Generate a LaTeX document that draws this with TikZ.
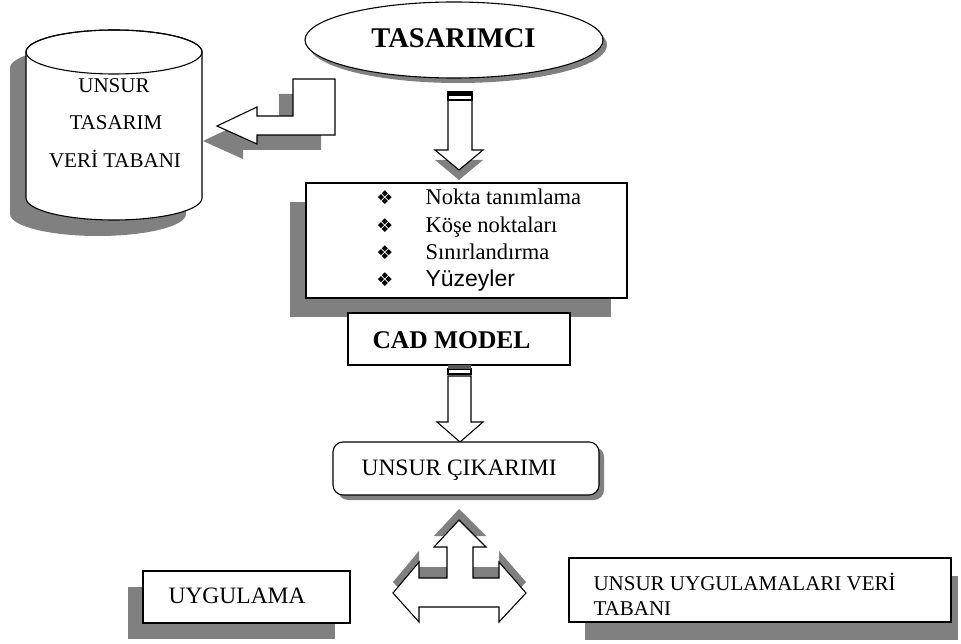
\documentclass[tikz,border=0pt]{standalone}
\usepackage{fontspec}
\setmainfont{Liberation Serif}
\newfontfamily\arialf{Liberation Sans}
\newfontfamily\symf{DejaVu Sans}
\usetikzlibrary{shapes.geometric}
\definecolor{shadowgray}{RGB}{128,128,128}
\definecolor{bandgray}{RGB}{90,90,90}
\begin{document}
\begin{tikzpicture}[x=1pt,y=-1pt,
  outl/.style={draw=black,line width=1.1pt,line join=miter},
  shd/.style={fill=shadowgray,draw=none},
  box/.style={outl,fill=white,rectangle,inner sep=0pt},
  dbtext/.style={anchor=base,font=\fontsize{21}{24}\selectfont},
  feattext/.style={anchor=base west,font=\fontsize{22.5}{26}\selectfont},
  bulletmark/.style={font=\symf\fontsize{19}{20}\selectfont,inner sep=0pt}]
\useasboundingbox (0,0) rectangle (961,644);

% ---------- database cylinder ----------
\fill[shd] (10,68) -- (10,214) arc[start angle=180,end angle=0,x radius=88,y radius=22]
  -- (186,68) arc[start angle=0,end angle=-180,x radius=88,y radius=22] -- cycle;
\filldraw[outl,fill=white] (26,52) -- (26,198) arc[start angle=180,end angle=0,x radius=88,y radius=22]
  -- (202,52) arc[start angle=0,end angle=-180,x radius=88,y radius=22] -- cycle;
\draw[outl] (114,52) ellipse [x radius=88,y radius=22];
\coordinate (db) at (114,125);
\node (db1) [dbtext] at (114,93) {UNSUR};
\node (db2) [dbtext] at (116,130) {TASARIM};
\node (db3) [dbtext] at (115,168) {VERİ TABANI};

% ---------- step arrow to database ----------
\fill[shd] (203,141) -- (243,122) -- (243,131) -- (279,131) -- (279,94) -- (321,94)
  -- (321,150) -- (243,150) -- (243,159) -- cycle;
\filldraw[outl,fill=white] (217,126) -- (257,107) -- (257,116) -- (293,116) -- (293,79) -- (335,79)
  -- (335,135) -- (257,135) -- (257,144) -- cycle;

% ---------- designer ellipse ----------
\fill[shd] (458,45) ellipse [x radius=149,y radius=38];
\node (des) [ellipse,outl,fill=white,minimum width=298pt,minimum height=76pt,inner sep=0pt] at (454,40) {};
\node (dest) [anchor=base,font=\bfseries\fontsize{28.5}{30}\selectfont] at (453.5,48) {TASARIMCI};

% ---------- arrow 1 ----------
\fill[shd] (435,160) -- (483,160) -- (459,180) -- cycle;
\filldraw[outl,fill=white] (448,100) -- (448,150) -- (435,150) -- (459,170) -- (483,150)
  -- (472,150) -- (472,100) -- cycle;
\filldraw[outl,fill=white] (448,92) rectangle (472,100);
\fill[black] (448,92) rectangle (472,96);

% ---------- feature box ----------
\fill[shd] (290,202) rectangle (611,317);
\node (feat) [box,minimum width=321pt,minimum height=115pt] at (466.5,240.5) {};
\node (b1) [bulletmark] at (385,198) {❖};
\node (b2) [bulletmark] at (385,226) {❖};
\node (b3) [bulletmark] at (385,253) {❖};
\node (b4) [bulletmark] at (385,280) {❖};
\node (f1) [feattext] at (422,205) {Nokta tanımlama};
\node (f2) [feattext] at (422,233) {Köşe noktaları};
\node (f3) [feattext] at (422,260) {Sınırlandırma};
\node (f4) [anchor=base west,font=\arialf\fontsize{23}{26}\selectfont] at (422,287) {Yüzeyler};

% ---------- CAD model ----------
\node (cad) [box,minimum width=222pt,minimum height=52pt] at (459,339) {};
\node (cadt) [anchor=base,font=\bfseries\fontsize{25.5}{28}\selectfont] at (451.5,348) {CAD MODEL};

% ---------- arrow 2 ----------
\filldraw[outl,fill=white] (448,376) -- (448,422) -- (437,422) -- (460,442) -- (483,422)
  -- (471,422) -- (471,376) -- cycle;
\filldraw[outl,fill=white] (448,369) rectangle (471,374);
\fill[bandgray] (448,365) rectangle (471,369);

% ---------- feature extraction ----------
\fill[shd,rounded corners=10pt] (338,447) rectangle (604,500);
\node (ext) [box,rounded corners=10pt,minimum width=266pt,minimum height=53pt] at (466,468.5) {};
\node (extt) [anchor=base west,font=\fontsize{23.5}{26}\selectfont] at (358,475) {UNSUR ÇIKARIMI};

% ---------- three-way arrow ----------
\fill[shd] (459,509) -- (486,536) -- (473,536) -- (473,567) -- (499,567) -- (499,551) -- (526,582)
  -- (499,611) -- (499,596) -- (419,596) -- (419,611) -- (393,582) -- (419,551) -- (419,567)
  -- (447,567) -- (447,536) -- (434,536) -- cycle;
\filldraw[outl,fill=white] (459,520) -- (486,547) -- (473,547) -- (473,578) -- (499,578) -- (499,562) -- (526,593)
  -- (499,622) -- (499,607) -- (419,607) -- (419,622) -- (393,593) -- (419,562) -- (419,578)
  -- (447,578) -- (447,547) -- (434,547) -- cycle;

% ---------- application ----------
\fill[shd] (128,587) rectangle (335,639);
\node (app) [box,minimum width=207pt,minimum height=52pt] at (246.5,597) {};
\node (appt) [anchor=base west,font=\fontsize{23.5}{26}\selectfont] at (165,603) {UYGULAMA};

% ---------- application database ----------
\fill[shd] (585,576) rectangle (958,640);
\node (adb) [box,minimum width=382pt,minimum height=64pt] at (760,590) {};
\node (adbt1) [anchor=base west,font=\fontsize{21}{25}\selectfont] at (590,590) {UNSUR UYGULAMALARI VERİ};
\node (adbt2) [anchor=base west,font=\fontsize{21}{25}\selectfont] at (590,615) {TABANI};
\end{tikzpicture}
\end{document}
